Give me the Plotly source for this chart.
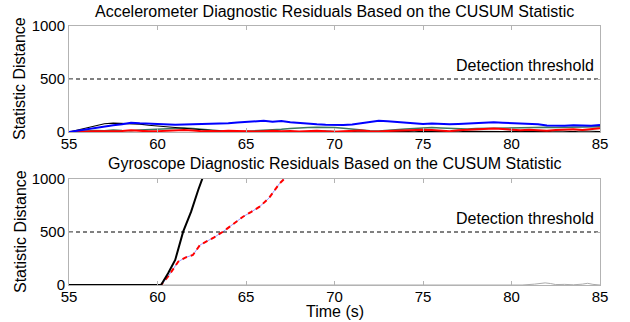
import plotly.graph_objects as go

W, H = 630, 322
FONT = "Liberation Sans, Arial, Helvetica, sans-serif"

# ---------- data ----------
t_acc = [55 + 0.5 * i for i in range(61)]
acc_blue = [0, 14, 28, 40, 52, 64, 74, 88, 82, 78, 72, 66, 68, 70, 72, 74, 78, 76, 82, 90,
            96, 100, 106, 96, 104, 92, 84, 78, 72, 68, 64, 66, 70, 84, 98, 106, 102, 96, 86, 80,
            76, 80, 74, 72, 76, 80, 86, 94, 92, 88, 84, 86, 80, 72, 62, 58, 60, 64, 60, 58, 66]
acc_black = [0, 18, 38, 60, 78, 84, 82, 80, 74, 64, 58, 54, 46, 36, 28, 22, 10, 4, 2, 0,
             4, 2, 6, 10, 4, 2, 6, 4, 2, 8, 4, 2, 4, 10, 6, 2, 4, 8, 4, 2,
             6, 4, 8, 4, 2, 6, 4, 8, 2, 4, 6, 2, 4, 8, 4, 10, 6, 4, 10, 6, 4]
acc_green = [0, 6, 10, 14, 12, 18, 14, 12, 18, 22, 28, 32, 36, 38, 34, 26, 14, 8, 4, 2,
             6, 10, 14, 20, 26, 34, 40, 42, 44, 44, 42, 36, 28, 18, 12, 10, 14, 20, 28, 34,
             40, 42, 38, 34, 30, 28, 32, 34, 30, 32, 36, 38, 40, 42, 44, 42, 44, 46, 44, 46, 50]
acc_red = [0, 4, 2, 6, 8, 6, 10, 16, 10, 6, 8, 12, 10, 18, 14, 8, 10, 6, 12, 8,
           10, 4, 8, 12, 6, 10, 4, 8, 12, 6, 2, 6, 10, 14, 8, 4, 10, 14, 18, 16,
           22, 18, 12, 8, 16, 22, 28, 30, 34, 28, 20, 16, 22, 18, 12, 18, 24, 26, 20, 28, 36]

t_gyr_black = [55, 60.2, 60.6, 61.0, 61.45, 61.9, 62.3, 62.7]
gyr_black = [0, 0, 110, 236, 503, 692, 896, 1080]
t_gyr_red = [55, 60.2, 60.6, 61.17, 61.6, 62.0, 62.4, 62.77, 63.2, 63.7, 64.3, 64.83,
             65.3, 65.77, 66.3, 66.9, 67.4]
gyr_red = [0, 0, 80, 220, 261, 283, 377, 408, 450, 503, 580, 644, 690, 739, 820, 959, 1040]
t_gyr_gray = [55, 80.6, 81.3, 81.6, 81.9, 82.2, 82.5, 83.0, 83.5, 84.0, 84.3, 84.6, 85]
gyr_gray = [0, 0, 8, 16, 20, 14, 4, 6, 2, 8, 16, 6, 0]

threshold = 500
x_ticks = [55, 60, 65, 70, 75, 80, 85]
y_ticks = [0, 500, 1000]
titles = ["Accelerometer Diagnostic Residuals Based on the CUSUM Statistic",
          "Gyroscope Diagnostic Residuals Based on the CUSUM Statistic"]
threshold_label = "Detection threshold"
y_label = "Statistic Distance"
x_label = "Time (s)"

# ---------- layout geometry (pixels) ----------
X0, X1 = 69, 600
TOP = (26, 132)
BOT = (179, 285)
FS = 16
TFS = 15


def py(v):
    return 1 - v / H


fig = go.Figure()

# top panel
fig.add_trace(go.Scatter(x=t_acc, y=acc_green, mode="lines", line=dict(color="#3d7a5c", width=1.5),
                         xaxis="x", yaxis="y"))
fig.add_trace(go.Scatter(x=t_acc, y=acc_black, mode="lines", line=dict(color="black", width=1.1),
                         xaxis="x", yaxis="y"))
fig.add_trace(go.Scatter(x=t_acc, y=acc_red, mode="lines", line=dict(color="#ff0000", width=2),
                         xaxis="x", yaxis="y"))
fig.add_trace(go.Scatter(x=t_acc, y=acc_blue, mode="lines", line=dict(color="#0000ff", width=2),
                         xaxis="x", yaxis="y"))
fig.add_trace(go.Scatter(x=[55, 85], y=[threshold, threshold], mode="lines",
                         line=dict(color="black", width=1, dash="4px,3px"), xaxis="x", yaxis="y"))

# bottom panel
fig.add_trace(go.Scatter(x=t_gyr_gray, y=gyr_gray, mode="lines", line=dict(color="#aaaaaa", width=1),
                         xaxis="x2", yaxis="y2"))
fig.add_trace(go.Scatter(x=t_gyr_red, y=gyr_red, mode="lines", line=dict(color="#9999ff", width=1),
                         xaxis="x2", yaxis="y2"))
fig.add_trace(go.Scatter(x=t_gyr_red, y=gyr_red, mode="lines",
                         line=dict(color="#ff0000", width=2, dash="5px,4px"), xaxis="x2", yaxis="y2"))
fig.add_trace(go.Scatter(x=t_gyr_black, y=gyr_black, mode="lines", line=dict(color="black", width=2),
                         xaxis="x2", yaxis="y2"))
fig.add_trace(go.Scatter(x=[55, 85], y=[threshold, threshold], mode="lines",
                         line=dict(color="black", width=1, dash="4px,3px"), xaxis="x2", yaxis="y2"))

axis_common = dict(showline=True, mirror="ticks", linecolor="#b3b3b3", linewidth=1,
                   ticks="inside", ticklen=4, tickcolor="#b3b3b3", showgrid=False, zeroline=False,
                   automargin=False, tickfont=dict(family=FONT, size=TFS, color="black"))

fig.update_layout(
    width=W, height=H, margin=dict(l=0, r=0, t=0, b=0, autoexpand=False),
    paper_bgcolor="white", plot_bgcolor="white", showlegend=False,
    font=dict(family=FONT, size=FS, color="black"),
    xaxis=dict(domain=[X0 / W, X1 / W], range=[55, 85], tickvals=x_ticks, anchor="y",
               ticklabelstandoff=-2, **axis_common),
    yaxis=dict(domain=[py(TOP[1]), py(TOP[0])], range=[0, 1000], tickvals=y_ticks, anchor="x",
               ticklabelstandoff=0, **axis_common),
    xaxis2=dict(domain=[X0 / W, X1 / W], range=[55, 85], tickvals=x_ticks, anchor="y2",
                ticklabelstandoff=-2, **axis_common),
    yaxis2=dict(domain=[py(BOT[1]), py(BOT[0])], range=[0, 1000], tickvals=y_ticks, anchor="x2",
                ticklabelstandoff=0, **axis_common),
)

ann = []
cx = (X0 + X1) / 2 / W
for title, yc in zip(titles, [12, 163]):
    ann.append(dict(text=title, x=cx, y=py(yc), xref="paper", yref="paper", showarrow=False,
                    xanchor="center", yanchor="middle", font=dict(family=FONT, size=FS, color="black")))
for xr, yr in [("x", "y"), ("x2", "y2")]:
    ann.append(dict(text=threshold_label, x=84.75, y=threshold, xref=xr, yref=yr, showarrow=False,
                    xanchor="right", yanchor="bottom", yshift=3,
                    font=dict(family=FONT, size=FS, color="black")))
for yc in [(TOP[0] + TOP[1]) / 2, (BOT[0] + BOT[1]) / 2]:
    ann.append(dict(text=y_label, x=20 / W, y=py(yc), xref="paper", yref="paper", showarrow=False,
                    textangle=-90, xanchor="center", yanchor="middle",
                    font=dict(family=FONT, size=FS, color="black")))
ann.append(dict(text=x_label, x=cx, y=py(311), xref="paper", yref="paper", showarrow=False,
                xanchor="center", yanchor="middle", font=dict(family=FONT, size=FS, color="black")))
fig.update_layout(annotations=ann)

fig.write_html("out.html")
